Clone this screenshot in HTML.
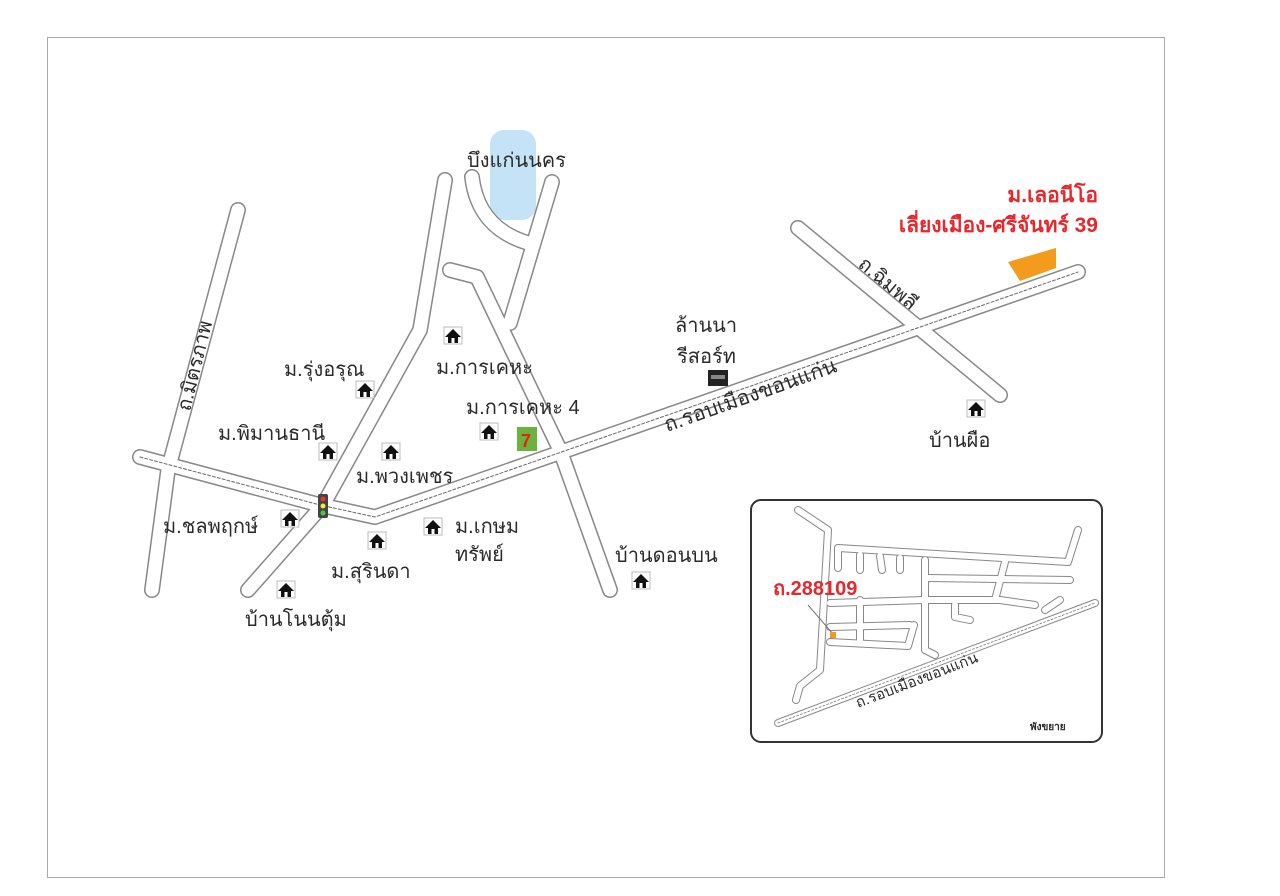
<!DOCTYPE html>
<html><head><meta charset="utf-8"><style>
html,body{margin:0;padding:0;background:#fff;}
svg text{font-family:"Liberation Sans","Noto Sans CJK SC",sans-serif;fill:#2a2a2a;}
</style></head><body>
<svg width="1280" height="891" viewBox="0 0 1280 891" xmlns="http://www.w3.org/2000/svg">
<defs>
<g id="h"><rect x="-9" y="-9" width="18" height="17" fill="#fff" stroke="#bbb" stroke-width="1"/><path d="M0,-7 L-8,1 L-5,1 L-5,7 L5,7 L5,1 L8,1 Z" fill="#111"/><rect x="-1.5" y="2" width="3" height="5" fill="#fff"/></g>
</defs>
<rect x="47.5" y="37.5" width="1117" height="840" fill="#fff" stroke="#aaa" stroke-width="1"/>
<rect x="490" y="130" width="46" height="90" rx="14" fill="#c5e3f6"/>
<g fill="none" stroke-linecap="round" stroke-linejoin="round">
 <g stroke="#888" stroke-width="16">
  <polyline points="238,210 168,470 152,590"/>
  <polyline points="140,457 320,505 375,517 1078,272"/>
  <polyline points="248,590 323,505 420,330 445,180"/>
  <path d="M472,177 Q478,228 528,243"/>
  <polyline points="552,182 510,323"/>
  <polyline points="450,270 477,277 560,450 610,590"/>
  <polyline points="798,228 1000,395"/>
 </g>
 <g stroke="#fff" stroke-width="13">
  <polyline points="238,210 168,470 152,590"/>
  <polyline points="140,457 320,505 375,517 1078,272"/>
  <polyline points="248,590 323,505 420,330 445,180"/>
  <path d="M472,177 Q478,228 528,243"/>
  <polyline points="552,182 510,323"/>
  <polyline points="450,270 477,277 560,450 610,590"/>
  <polyline points="798,228 1000,395"/>
 </g>
 <polyline points="140,457 320,505 375,517 1078,272" stroke="#666" stroke-width="1" stroke-dasharray="3,2"/>
</g>
<polygon points="1008,262 1056,248 1056,268 1020,281" fill="#f49a1c"/>
<rect x="318" y="494" width="10" height="24" rx="2" fill="#444"/>
<circle cx="323" cy="499" r="2.5" fill="#e33"/><circle cx="323" cy="506" r="2.5" fill="#ee3"/><circle cx="323" cy="513" r="2.5" fill="#4c4"/>
<rect x="517" y="427" width="20" height="24" fill="#6cb33e"/><text x="521" y="447" font-size="18" font-weight="bold" style="fill:#e2231a">7</text>
<rect x="708" y="370" width="20" height="16" fill="#222"/><rect x="711" y="375" width="14" height="4" fill="#888"/>
<use href="#h" x="453" y="336"/><use href="#h" x="365" y="390"/><use href="#h" x="489" y="432"/>
<use href="#h" x="328" y="452"/><use href="#h" x="391" y="452"/><use href="#h" x="290" y="519"/>
<use href="#h" x="433" y="527"/><use href="#h" x="377" y="541"/><use href="#h" x="286" y="590"/>
<use href="#h" x="641" y="581"/><use href="#h" x="976" y="409"/>
<g font-size="20">
<text x="467" y="167">บึงแก่นนคร</text>
<text x="284" y="376">ม.รุ่งอรุณ</text>
<text x="436" y="374">ม.การเคหะ</text>
<text x="466" y="414">ม.การเคหะ 4</text>
<text x="218" y="440">ม.พิมานธานี</text>
<text x="356" y="483">ม.พวงเพชร</text>
<text x="163" y="533">ม.ชลพฤกษ์</text>
<text x="455" y="533">ม.เกษม</text>
<text x="455" y="561">ทรัพย์</text>
<text x="331" y="578">ม.สุรินดา</text>
<text x="245" y="626">บ้านโนนตุ้ม</text>
<text x="615" y="562">บ้านดอนบน</text>
<text x="675" y="332">ล้านนา</text>
<text x="677" y="363">รีสอร์ท</text>
<text x="929" y="447">บ้านผือ</text>
<text transform="translate(667,432) rotate(-19.5)" font-size="21">ถ.รอบเมืองขอนแก่น</text>
<text transform="translate(857,266) rotate(40)">ถ.ฉิมพลี</text>
<text transform="translate(190,412) rotate(-76)">ถ.มิตรภาพ</text>
</g>
<g font-size="21" font-weight="bold" text-anchor="end">
<text x="1098" y="202" style="fill:#e8262b">ม.เลอนีโอ</text>
<text x="1098" y="232" style="fill:#e8262b">เลี่ยงเมือง-ศรีจันทร์ 39</text>
</g>
<rect x="751" y="500" width="351" height="242" rx="10" fill="#fff" stroke="#333" stroke-width="2"/>
<g fill="none" stroke-linecap="round" stroke-linejoin="round">
 <g stroke="#888" stroke-width="8">
  <polyline points="798,510 828,530 820,670 800,686 796,700"/>
  <polyline points="778,723 1095,603"/>
  <polyline points="838,548 1068,562 1078,530"/>
  <polyline points="838,548 838,568"/><polyline points="860,555 860,570"/><polyline points="880,556 882,570"/><polyline points="900,558 900,570"/>
  <polyline points="925,560 925,650 935,655"/>
  <polyline points="928,578 1070,580"/>
  <polyline points="1005,562 995,600"/>
  <polyline points="830,603 925,600 1000,600 1035,605"/>
  <polyline points="955,605 955,617 970,620"/>
  <polyline points="830,627 910,625"/><polyline points="830,642 908,646 914,625"/>
  <polyline points="860,600 860,642"/>
  <polyline points="1045,610 1060,600"/>
 </g>
 <g stroke="#fff" stroke-width="6">
  <polyline points="798,510 828,530 820,670 800,686 796,700"/>
  <polyline points="778,723 1095,603"/>
  <polyline points="838,548 1068,562 1078,530"/>
  <polyline points="838,548 838,568"/><polyline points="860,555 860,570"/><polyline points="880,556 882,570"/><polyline points="900,558 900,570"/>
  <polyline points="925,560 925,650 935,655"/>
  <polyline points="928,578 1070,580"/>
  <polyline points="1005,562 995,600"/>
  <polyline points="830,603 925,600 1000,600 1035,605"/>
  <polyline points="955,605 955,617 970,620"/>
  <polyline points="830,627 910,625"/><polyline points="830,642 908,646 914,625"/>
  <polyline points="860,600 860,642"/>
  <polyline points="1045,610 1060,600"/>
 </g>
 <polyline points="778,723 1095,603" stroke="#777" stroke-width="0.8" stroke-dasharray="2,2"/>
</g>
<line x1="808" y1="605" x2="833" y2="634" stroke="#777" stroke-width="1"/>
<rect x="830" y="632" width="6" height="6" fill="#f49a1c"/>
<text x="773" y="595" font-size="20" font-weight="bold" style="fill:#e8262b">ถ.288109</text>
<text transform="translate(858,708) rotate(-21)" font-size="15">ถ.รอบเมืองขอนแก่น</text>
<text x="1030" y="730" font-size="10" font-weight="bold">พังขยาย</text>
</svg>
</body></html>
